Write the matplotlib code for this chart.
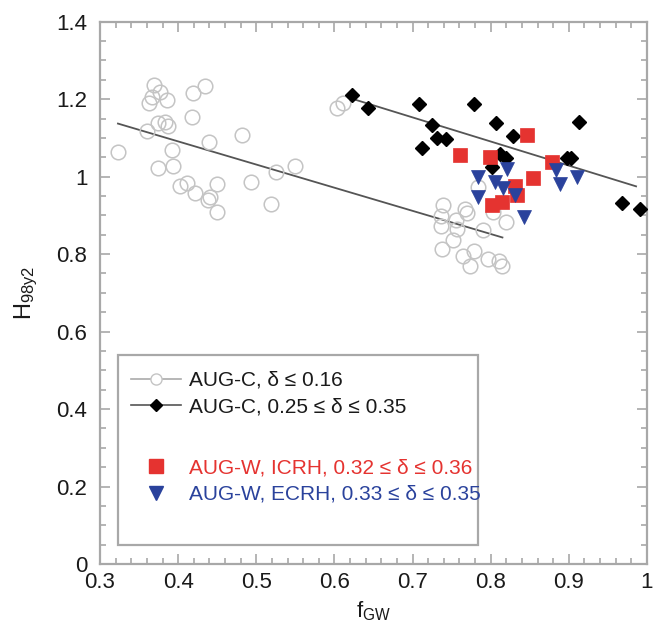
import matplotlib
matplotlib.use("Agg")
import matplotlib.pyplot as plt
from matplotlib.ticker import MultipleLocator, FormatStrFormatter
from matplotlib.lines import Line2D
from matplotlib.patches import Rectangle

plt.rcParams['font.family'] = ['Liberation Sans', 'DejaVu Sans']
plt.rcParams['mathtext.default'] = 'regular'

# AUG-C, delta <= 0.16 (open grey circles)
augc_low_f = [0.323, 0.369, 0.377, 0.367, 0.363, 0.386, 0.419, 0.434, 0.418, 0.360,
              0.374, 0.383, 0.387, 0.392, 0.374, 0.393, 0.440, 0.482, 0.402, 0.411,
              0.422, 0.441, 0.438, 0.450, 0.450, 0.493, 0.525, 0.550, 0.519, 0.603,
              0.611,
              0.739, 0.737, 0.737, 0.755, 0.770, 0.767, 0.757, 0.752, 0.738, 0.765,
              0.778, 0.774, 0.797, 0.810, 0.815, 0.790, 0.819, 0.784, 0.803]
augc_low_h = [1.063, 1.236, 1.218, 1.205, 1.190, 1.197, 1.215, 1.234, 1.154, 1.117,
              1.138, 1.141, 1.130, 1.068, 1.022, 1.027, 1.089, 1.107, 0.977, 0.983,
              0.957, 0.947, 0.939, 0.981, 0.908, 0.986, 1.012, 1.027, 0.929, 1.177,
              1.190,
              0.926, 0.899, 0.872, 0.888, 0.906, 0.916, 0.865, 0.836, 0.813, 0.795,
              0.808, 0.769, 0.787, 0.782, 0.769, 0.862, 0.883, 0.973, 0.908]

# AUG-C, 0.25 <= delta <= 0.35 (black diamonds)
augc_high_f = [0.623, 0.643, 0.708, 0.779, 0.725, 0.731, 0.743, 0.712, 0.807, 0.829,
               0.913, 0.812, 0.819, 0.802, 0.897, 0.903, 0.968, 0.991]
augc_high_h = [1.210, 1.177, 1.187, 1.187, 1.133, 1.099, 1.097, 1.074, 1.138, 1.105,
               1.141, 1.058, 1.048, 1.025, 1.048, 1.048, 0.932, 0.916]

# AUG-W, ICRH (red squares)
icrh_f = [0.847, 0.761, 0.799, 0.879, 0.854, 0.831, 0.834, 0.815, 0.802]
icrh_h = [1.107, 1.055, 1.050, 1.037, 0.996, 0.975, 0.952, 0.934, 0.926]

# AUG-W, ECRH (blue triangles)
ecrh_f = [0.784, 0.821, 0.806, 0.816, 0.831, 0.784, 0.883, 0.889, 0.911, 0.842]
ecrh_h = [0.999, 1.019, 0.986, 0.970, 0.952, 0.947, 1.017, 0.981, 0.999, 0.895]

# regression lines
fit_low_f = [0.323, 0.815]
fit_low_h = [1.137, 0.843]
fit_high_f = [0.618, 0.986]
fit_high_h = [1.204, 0.975]

labels = ['AUG-C, δ ≤ 0.16', 'AUG-C, 0.25 ≤ δ ≤ 0.35',
          'AUG-W, ICRH, 0.32 ≤ δ ≤ 0.36', 'AUG-W, ECRH, 0.33 ≤ δ ≤ 0.35']

grey_c = '#c4c4c4'
red_c = '#e53330'
blue_c = '#2a429c'
spine_c = '#a8a8a8'

fig = plt.figure(figsize=(6.6, 6.29), dpi=100)
ax = fig.add_axes([0.1515, 0.1033, 0.8288, 0.8622])

ax.plot(fit_low_f, fit_low_h, color='#555555', lw=1.3, zorder=2)
ax.plot(fit_high_f, fit_high_h, color='#555555', lw=1.3, zorder=2)
ax.plot(augc_low_f, augc_low_h, ls='none', marker='o', ms=10.5, mfc='none',
        mec=grey_c, mew=1.1, zorder=3)
ax.plot(augc_high_f, augc_high_h, ls='none', marker='D', ms=7.2, mfc='black',
        mec='black', zorder=4)
ax.plot(icrh_f, icrh_h, ls='none', marker='s', ms=10, mfc=red_c, mec=red_c,
        mew=0.5, zorder=5)
ax.plot(ecrh_f, ecrh_h, ls='none', marker='v', ms=10, mfc=blue_c, mec=blue_c,
        mew=0.5, zorder=6)

ax.set_xlim(0.3, 1.0)
ax.set_ylim(0, 1.4)
ax.xaxis.set_major_locator(MultipleLocator(0.1))
ax.xaxis.set_minor_locator(MultipleLocator(0.02))
ax.yaxis.set_major_locator(MultipleLocator(0.2))
ax.yaxis.set_minor_locator(MultipleLocator(0.05))
ax.xaxis.set_major_formatter(FormatStrFormatter('%g'))
ax.yaxis.set_major_formatter(FormatStrFormatter('%g'))
ax.tick_params(which='both', direction='in', top=True, right=True,
               color=spine_c, width=1.2)
ax.tick_params(which='major', length=7, labelsize=16, labelcolor='#1a1a1a')
ax.tick_params(axis='y', which='major', pad=9)
ax.tick_params(axis='x', which='major', pad=6)
ax.tick_params(which='minor', length=4)
for s in ax.spines.values():
    s.set_color(spine_c)
    s.set_linewidth(1.6)

ax.set_xlabel(r'$f_{GW}$', fontsize=16, color='#1a1a1a', labelpad=4)
ax.set_ylabel(r'$H_{98y2}$', fontsize=17, color='#1a1a1a', labelpad=12)

# legend frame
ax.add_patch(Rectangle((0.033, 0.035), 0.658, 0.35, transform=ax.transAxes,
                       fill=False, edgecolor=spine_c, lw=1.6, zorder=7))

handles_c = [
    Line2D([], [], color='#aaaaaa', lw=1.2, marker='o', ms=8, mfc='white',
           mec=grey_c, mew=1.0),
    Line2D([], [], color='#555555', lw=1.2, marker='D', ms=6.5, mfc='black',
           mec='black'),
]
handles_w = [
    Line2D([], [], ls='none', marker='s', ms=10, mfc=red_c, mec=red_c),
    Line2D([], [], ls='none', marker='v', ms=10, mfc=blue_c, mec=blue_c),
]
leg_kw = dict(loc='upper left', frameon=False, fontsize=15, handlelength=2.4,
              handletextpad=0.4, labelspacing=0.36, borderaxespad=0.3,
              borderpad=0.3)
leg1 = ax.legend(handles_c, labels[:2], bbox_to_anchor=(0.033, 0.379), **leg_kw)
for t in leg1.get_texts():
    t.set_color('#1a1a1a')
leg1.set_zorder(8)
ax.add_artist(leg1)
leg2 = ax.legend(handles_w, labels[2:], bbox_to_anchor=(0.033, 0.218), **leg_kw)
for t, c in zip(leg2.get_texts(), [red_c, blue_c]):
    t.set_color(c)
leg2.set_zorder(8)

fig.savefig('out.png', dpi=100)
